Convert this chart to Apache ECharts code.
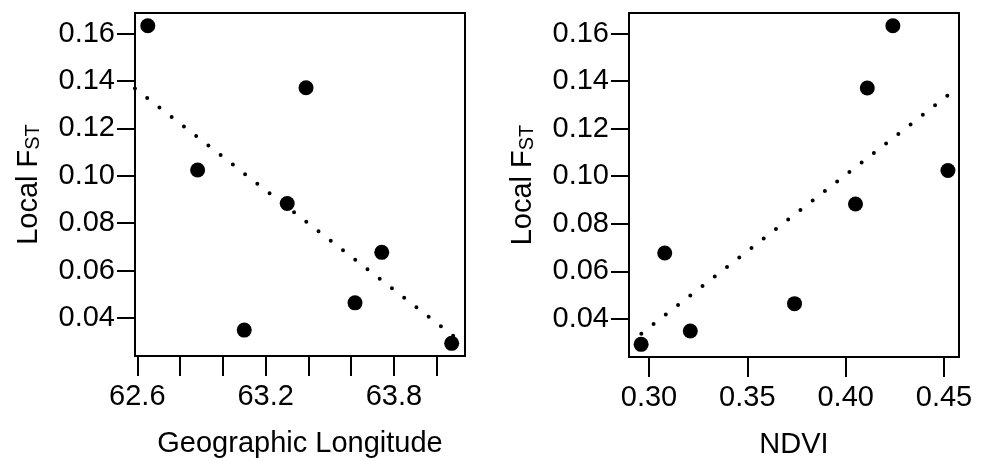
<!DOCTYPE html>
<html>
<head>
<meta charset="utf-8">
<script src="https://cdn.jsdelivr.net/npm/echarts@6/dist/echarts.min.js"></script>
<style>
  html, body { margin: 0; padding: 0; background: #fff; }
  #chart { width: 987px; height: 461px; }
</style>
</head>
<body>
<div id="chart"></div>
<script>
// ---- data ----
const localFst   = [0.1633, 0.1024, 0.0349, 0.0883, 0.1371, 0.0464, 0.0677, 0.0293];
const longitude  = [62.649, 62.882, 63.100, 63.301, 63.389, 63.618, 63.743, 64.070];
const ndvi       = [0.424, 0.452, 0.321, 0.405, 0.411, 0.374, 0.308, 0.296];

// dotted fit lines (end points)
const lonTrendX  = [62.589, 64.132];
const lonTrendY  = [0.1368, 0.0286];
const ndviTrendX = [0.2961, 0.4526];
const ndviTrendY = [0.0338, 0.1344];

// axis ticks / labels
const fstTicks     = [0.04, 0.06, 0.08, 0.10, 0.12, 0.14, 0.16];
const lonTicks     = [62.6, 62.8, 63.0, 63.2, 63.4, 63.6, 63.8, 64.0];
const lonLabels    = [62.6, 63.2, 63.8];
const ndviTicks    = [0.30, 0.35, 0.40, 0.45];

const FONT = "'Liberation Sans', Arial, Helvetica, sans-serif";
const FS = 29;

function pairs(xs, ys) { return xs.map((x, i) => [x, ys[i]]); }

function yAxisDef(gridIndex) {
  return {
    type: 'value', gridIndex,
    min: 0.02397, max: 0.16865,
    axisLine: { show: false },
    splitLine: { show: false },
    axisTick: { show: true, customValues: fstTicks, length: 18, lineStyle: { color: '#000', width: 2 } },
    axisLabel: { customValues: fstTicks, formatter: v => v.toFixed(2), fontSize: FS, color: '#000', fontFamily: FONT, margin: 20 },
    name: '{a|Local F}{b|ST}',
    nameLocation: 'middle',
    nameGap: 92,
    nameTextStyle: {
      color: '#000', fontFamily: FONT, fontSize: FS,
      rich: {
        a: { fontSize: FS, fontFamily: FONT, color: '#000', lineHeight: FS, verticalAlign: 'top', padding: [0, 0, 5, 0] },
        b: { fontSize: 20, fontFamily: FONT, color: '#000', lineHeight: 20, verticalAlign: 'bottom' }
      }
    }
  };
}

const option = {
  backgroundColor: '#fff',
  animation: false,
  grid: [
    { left: 135, top: 13, width: 330, height: 343, show: true, borderColor: '#000', borderWidth: 2, backgroundColor: 'transparent', outerBoundsMode: 'none', containLabel: false },
    { left: 629, top: 13, width: 330, height: 344, show: true, borderColor: '#000', borderWidth: 2, backgroundColor: 'transparent', outerBoundsMode: 'none', containLabel: false }
  ],
  xAxis: [
    {
      type: 'value', gridIndex: 0,
      min: 62.5892, max: 64.1323,
      axisLine: { show: false },
      splitLine: { show: false },
      axisTick: { show: true, customValues: lonTicks, length: 20, lineStyle: { color: '#000', width: 2 } },
      axisLabel: { customValues: lonLabels, formatter: v => v.toFixed(1), fontSize: FS, color: '#000', fontFamily: FONT, margin: 26 },
      name: 'Geographic Longitude',
      nameLocation: 'middle',
      nameGap: 73,
      nameTextStyle: { color: '#000', fontFamily: FONT, fontSize: FS }
    },
    {
      type: 'value', gridIndex: 1,
      min: 0.28983, max: 0.45763,
      axisLine: { show: false },
      splitLine: { show: false },
      axisTick: { show: true, customValues: ndviTicks, length: 20, lineStyle: { color: '#000', width: 2 } },
      axisLabel: { customValues: ndviTicks, formatter: v => v.toFixed(2), fontSize: FS, color: '#000', fontFamily: FONT, margin: 26 },
      name: 'NDVI',
      nameLocation: 'middle',
      nameGap: 73,
      nameTextStyle: { color: '#000', fontFamily: FONT, fontSize: FS }
    }
  ],
  yAxis: [ yAxisDef(0), yAxisDef(1) ],
  series: [
    {
      type: 'line', xAxisIndex: 0, yAxisIndex: 0,
      data: pairs(lonTrendX, lonTrendY),
      symbol: 'none', z: 2, clip: true,
      lineStyle: { color: '#000', width: 4, type: [0, 15.5], cap: 'round', opacity: 1 }
    },
    {
      type: 'line', xAxisIndex: 1, yAxisIndex: 1,
      data: pairs(ndviTrendX, ndviTrendY),
      symbol: 'none', z: 2, clip: true,
      lineStyle: { color: '#000', width: 4, type: [0, 15.5], cap: 'round', opacity: 1 }
    },
    {
      type: 'scatter', xAxisIndex: 0, yAxisIndex: 0,
      data: pairs(longitude, localFst),
      symbol: 'circle', symbolSize: 15, z: 5,
      itemStyle: { color: '#000', opacity: 1 }
    },
    {
      type: 'scatter', xAxisIndex: 1, yAxisIndex: 1,
      data: pairs(ndvi, localFst),
      symbol: 'circle', symbolSize: 15, z: 5,
      itemStyle: { color: '#000', opacity: 1 }
    }
  ]
};

const chart = echarts.init(document.getElementById('chart'), null, { renderer: 'canvas' });
chart.setOption(option);
</script>
</body>
</html>
